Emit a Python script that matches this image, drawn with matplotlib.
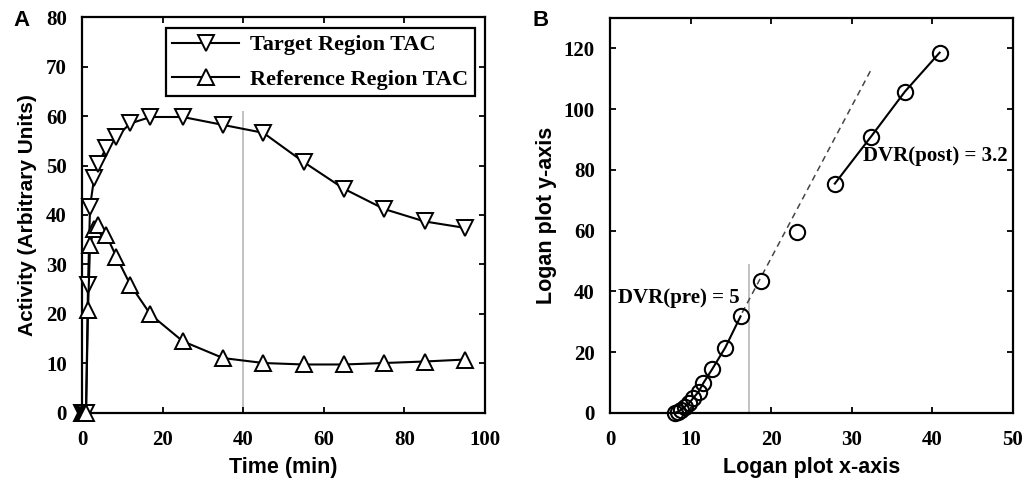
import matplotlib
matplotlib.use("Agg")
import matplotlib.pyplot as plt
import numpy as np

# Panel A: time-activity curves
time_min = [0, 0.25, 0.5, 0.75, 1.0, 1.5, 2, 3, 4, 6, 8.5, 12, 17, 25, 35, 45, 55, 65, 75, 85, 95]
target_tac = [0, 0, 0, 0, 0, 25.9, 41.7, 47.4, 50.4, 53.5, 55.8, 58.5, 59.8, 59.8, 58.2,
              56.6, 50.7, 45.3, 41.2, 38.7, 37.4]
reference_tac = [0, 0, 0, 0, 0, 20.8, 33.9, 37.2, 38.0, 36.0, 31.6, 25.9, 19.9, 14.5, 11.1,
                 10.1, 9.8, 9.8, 10.1, 10.4, 10.8]
cut_time = 40
cut_top_a = 61

# Panel B: Logan plot
pre_x = [8.1, 8.4, 8.8, 9.3, 9.8, 10.3, 11.0, 11.6, 12.7, 14.3, 16.2]
pre_y = [0.1, 0.4, 1.0, 2.1, 3.2, 4.8, 7.0, 9.9, 14.5, 21.5, 31.8]
mid_x = [18.7, 23.2]
mid_y = [43.3, 59.7]
post_x = [27.9, 32.4, 36.6, 40.9]
post_y = [75.5, 91.0, 105.8, 118.6]
pre_slope, pre_intercept = 5.0, -49.0
pre_fit_x = [16.4, 32.4]
cut_x = 17.3
cut_top_b = 49

serif = ["Liberation Serif", "DejaVu Serif"]
sans = ["Liberation Sans", "DejaVu Sans"]

fig = plt.figure(figsize=(10.26, 4.79), dpi=100)
axA = fig.add_axes([0.0799, 0.1378, 0.3928, 0.8267])
axB = fig.add_axes([0.5945, 0.1378, 0.3928, 0.8246])


def style(ax):
    for s in ax.spines.values():
        s.set_linewidth(1.6)
    ax.tick_params(direction="in", top=True, right=True, length=4, width=1.3,
                   labelsize=15)
    ax.tick_params(axis="x", pad=12)
    ax.tick_params(axis="y", pad=11)
    for tl in ax.get_xticklabels() + ax.get_yticklabels():
        tl.set_family(serif)
        tl.set_fontweight("bold")


# ---- Panel A
axA.vlines(cut_time, 0, cut_top_a, color="#bdbdbd", lw=1.3, zorder=1)
axA.plot(time_min, target_tac, "k-", marker="v", ms=11, mfc="white", mew=1.4, lw=1.5,
         clip_on=False, label="Target Region TAC", zorder=3)
axA.plot(time_min, reference_tac, "k-", marker="^", ms=11, mfc="white", mew=1.4, lw=1.5,
         clip_on=False, label="Reference Region TAC", zorder=3)
axA.set_xlim(0, 100)
axA.set_ylim(0, 80)
axA.set_xticks(range(0, 101, 20))
axA.set_yticks(range(0, 81, 10))
style(axA)
axA.set_xlabel("Time (min)", family=sans, fontweight="bold", fontsize=15.5, labelpad=5)
axA.set_ylabel("Activity (Arbitrary Units)", family=sans, fontweight="bold", fontsize=15,
               labelpad=6)
leg = axA.legend(loc="upper right", bbox_to_anchor=(0.975, 0.972), borderaxespad=0,
                 fancybox=False, edgecolor="black", framealpha=1, handlelength=3.0,
                 handletextpad=0.5, prop={"family": serif, "weight": "bold", "size": 16},
                 borderpad=0.3, labelspacing=0.62)
leg.get_frame().set_linewidth(1.6)

# ---- Panel B
fx = np.array(pre_fit_x)
axB.plot(fx, pre_slope * fx + pre_intercept, color="#444444", ls=(0, (4, 3)), lw=1.1)
axB.vlines(cut_x, 0, cut_top_b, color="#bdbdbd", lw=1.3, zorder=1)
axB.plot(pre_x, pre_y, "k-", marker="o", ms=11, mfc="none", mew=1.5, lw=1.5, clip_on=False)
axB.plot(mid_x, mid_y, marker="o", ms=11, mfc="none", mec="k", mew=1.5, ls="none")
axB.plot(post_x, post_y, "k-", marker="o", ms=11, mfc="none", mew=1.5, lw=1.5)
axB.set_xlim(0, 50)
axB.set_ylim(0, 130)
axB.set_xticks(range(0, 51, 10))
axB.set_yticks(range(0, 121, 20))
style(axB)
axB.set_xlabel("Logan plot x-axis", family=sans, fontweight="bold", fontsize=15.5, labelpad=5)
axB.set_ylabel("Logan plot y-axis", family=sans, fontweight="bold", fontsize=15.5, labelpad=5)
axB.text(16.1, 38, "DVR(pre) = 5", ha="right", va="center", family=serif,
         fontweight="bold", fontsize=15)
axB.text(31.4, 84.5, "DVR(post) = 3.2", ha="left", va="center", family=serif,
         fontweight="bold", fontsize=15)

fig.text(0.013, 0.958, "A", family=sans, fontweight="bold", fontsize=16, va="center")
fig.text(0.519, 0.958, "B", family=sans, fontweight="bold", fontsize=16, va="center")

fig.savefig("out.png", dpi=100)
